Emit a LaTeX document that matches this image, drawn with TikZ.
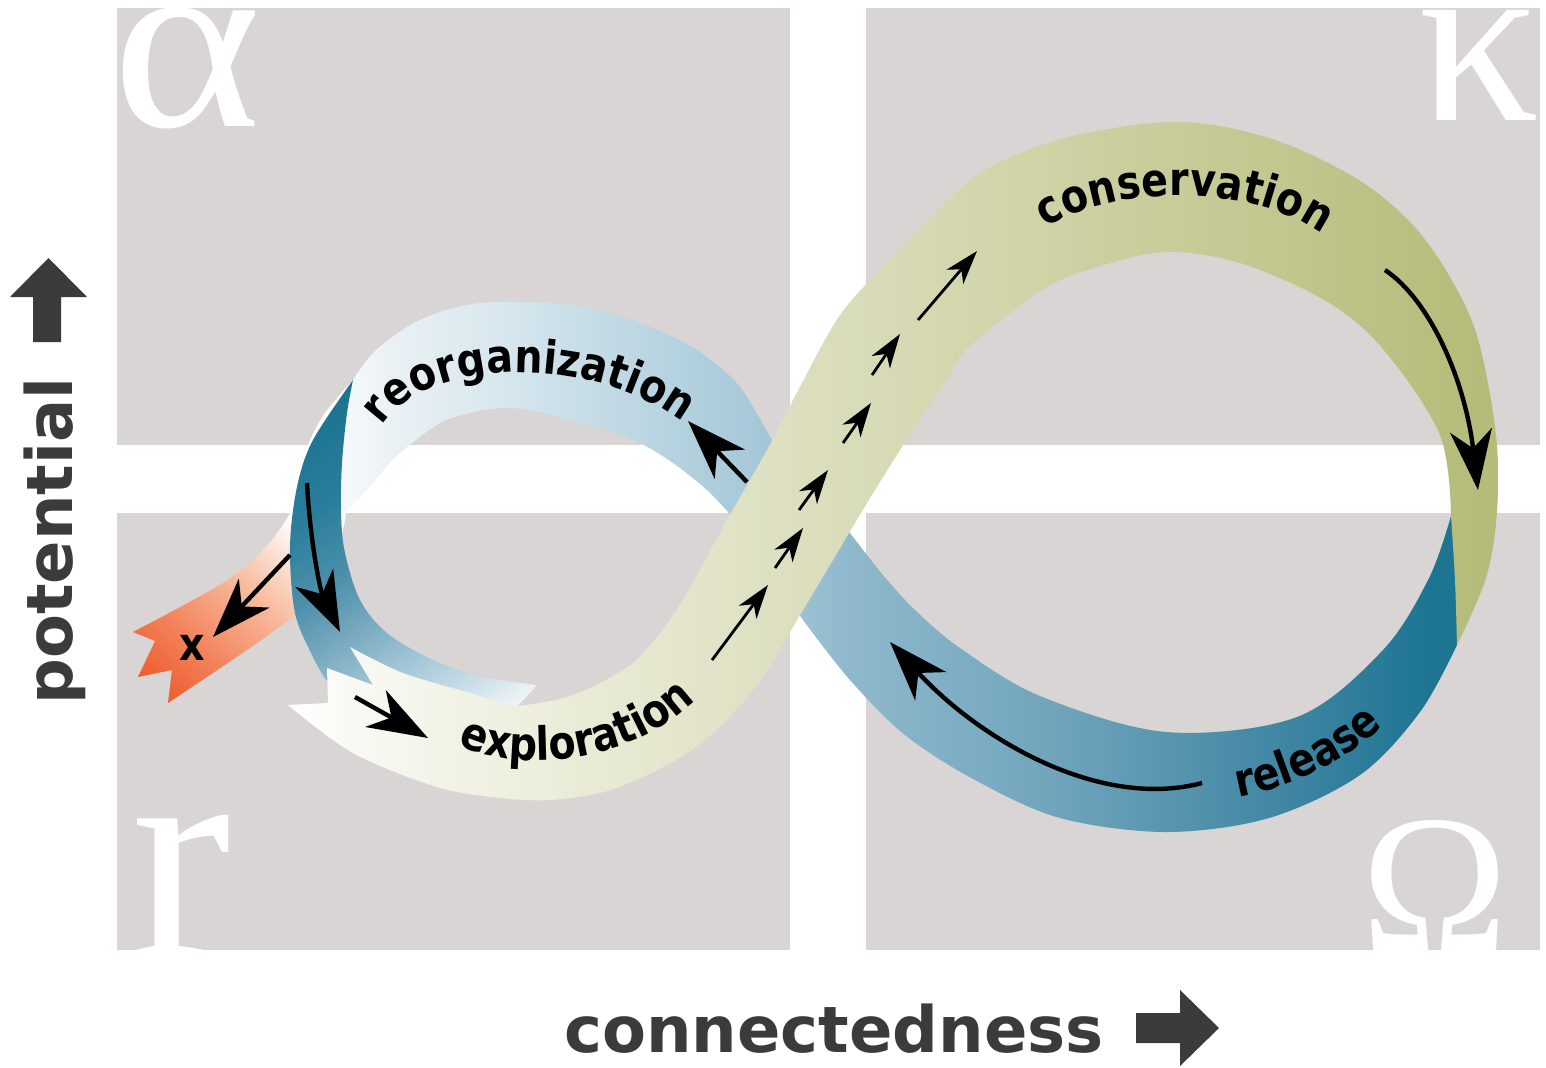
\documentclass[tikz,border=0pt]{standalone}
\usepackage{fontspec}
\setsansfont{DejaVu Sans}
\newfontfamily\greekfont{Liberation Serif}
\newfontfamily\ribbonfam[FakeStretch=0.86]{DejaVu Sans}
\usetikzlibrary{arrows.meta,decorations.text}
\newcommand\ribbonfont{\ribbonfam\bfseries\fontsize{23}{27}\selectfont}
\newcommand\axisfont{\sffamily\bfseries\fontsize{32}{38}\selectfont}
\definecolor{quad}{RGB}{217,213,212}
\definecolor{axisgrey}{HTML}{3B3B3D}
% green ribbon
\definecolor{g0}{HTML}{FFFFFF}\definecolor{g1}{HTML}{F9F9F4}\definecolor{g2}{HTML}{F2F3E6}
\definecolor{g3}{HTML}{ECEDDA}\definecolor{g4}{HTML}{E6E7CF}\definecolor{g5}{HTML}{DFE1C4}
\definecolor{g6}{HTML}{D9DCB9}\definecolor{g7}{HTML}{D1D5AA}\definecolor{g8}{HTML}{C9CD9B}
\definecolor{g9}{HTML}{C0C68C}\definecolor{g10}{HTML}{B5BB79}
% blue ribbon
\definecolor{b0}{HTML}{F5F9FB}\definecolor{b1}{HTML}{E8F0F4}\definecolor{b2}{HTML}{D8E7EE}
\definecolor{b3}{HTML}{C4DBE6}\definecolor{b4}{HTML}{B0CFDD}\definecolor{b5}{HTML}{A3C6D6}
\definecolor{b6}{HTML}{8FB8CC}\definecolor{b7}{HTML}{7EAEC4}\definecolor{b8}{HTML}{72A6BD}
\definecolor{b9}{HTML}{5B96B0}\definecolor{b10}{HTML}{3C84A1}\definecolor{b11}{HTML}{1D7592}
% teal
\definecolor{t0}{HTML}{1A7391}\definecolor{t1}{HTML}{2A7E9B}\definecolor{t2}{HTML}{4D90AB}
\definecolor{t3}{HTML}{74A7BE}\definecolor{t4}{HTML}{9CC2D3}\definecolor{t5}{HTML}{CDE0E9}
\definecolor{t6}{HTML}{EAF2F6}\definecolor{t7}{HTML}{F4F8FA}
% orange
\definecolor{o0}{HTML}{EE5A2B}\definecolor{o1}{HTML}{F28058}\definecolor{o2}{HTML}{F8B99C}
\pgfdeclarehorizontalshading{greenshade}{100bp}{color(0bp)=(g0); color(25bp)=(g0); color(27.56bp)=(g1); color(31.68bp)=(g2); color(35.81bp)=(g3); color(39.93bp)=(g4); color(44.06bp)=(g5); color(48.18bp)=(g6); color(54.37bp)=(g7); color(60.56bp)=(g8); color(66.75bp)=(g9); color(74.17bp)=(g10); color(100bp)=(g10)}
\pgfdeclarehorizontalshading{blueshade}{100bp}{color(0bp)=(b0); color(25.2bp)=(b0); color(27.68bp)=(b1); color(32.14bp)=(b2); color(36.61bp)=(b3); color(41.07bp)=(b4); color(44.2bp)=(b5); color(47.77bp)=(b6); color(52.68bp)=(b7); color(56.25bp)=(b8); color(61.61bp)=(b9); color(67.86bp)=(b10); color(73.66bp)=(b11); color(100bp)=(b11)}
\pgfdeclareverticalshading{tealshade}{100bp}{color(0bp)=(t7); color(25bp)=(t7); color(27bp)=(t6); color(31.5bp)=(t5); color(40bp)=(t4); color(47bp)=(t3); color(53.5bp)=(t2); color(63bp)=(t1); color(75bp)=(t0); color(100bp)=(t0)}
\pgfdeclareverticalshading{orangeshade}{100bp}{color(0bp)=(o0); color(32bp)=(o0); color(39bp)=(o1); color(48bp)=(o2); color(57.5bp)=(white); color(100bp)=(white)}
\tikzset{
  quadbox/.style={fill=quad},
  greek/.style={inner sep=0pt, text=white, font=\greekfont\fontsize{#1}{#1}\selectfont},
  axislabel/.style={inner sep=0pt, text=axisgrey, font=\axisfont},
  bigarr/.style={line width=2.2pt, -{Stealth[length=30pt,width=21pt,inset=9pt]}},
  smallarr/.style={line width=1.4pt, -{Stealth[length=17pt,width=11pt,inset=5pt]}},
  ribbontext/.style={decorate, decoration={text along path, text={|\ribbonfont|#1}, text color=black}},
  edge/.style={smooth, tension=.55}
}
\begin{document}
\begin{tikzpicture}[x=0.5pt,y=-0.5pt]
\useasboundingbox (0,0) rectangle (1546,1067);
\fill[white] (0,0) rectangle (1546,1067);
% quadrants
\fill[quadbox] (117,8) rectangle (790,445);
\fill[quadbox] (866,8) rectangle (1540,445);
\fill[quadbox] (117,513) rectangle (790,950);
\fill[quadbox] (866,513) rectangle (1540,950);
% greek letters
\begin{scope}\clip (117,8) rectangle (790,445);
\node[greek=126, anchor=base west] (alpha) at (112,126) {\scalebox{1.13}[1]{α}};
\end{scope}
\begin{scope}\clip (866,8) rectangle (1540,445);
\node[greek=120, anchor=base west] (kappa) at (1418,120) {κ};
\end{scope}
\begin{scope}\clip (117,513) rectangle (790,950);
\node[greek=150, anchor=base west] (rr) at (131,956) {r};
\end{scope}
\begin{scope}\clip (866,513) rectangle (1540,950);
\node[greek=99, anchor=base west] (omega) at (1361,951) {Ω};
\end{scope}
% axes
\node[axislabel, rotate=90, anchor=base] (pot) at (72,541) {potential};
\node[axislabel, anchor=base] (conn) at (834,1052) {connectedness};
\fill[axisgrey] (10,297) -- (48.5,258) -- (87,297) -- (61,297) -- (61,342) -- (33,342) -- (33,297) -- cycle;
\fill[axisgrey] (1136,1013) -- (1180,1013) -- (1180,990) -- (1219,1028) -- (1180,1066) -- (1180,1043) -- (1136,1043) -- cycle;
% orange x band
\begin{scope}
\clip plot[edge] coordinates {(353,380) (325,413) (307,447) (297,480) (290,513) (262,551) (223,583) (133,632)}
  -- (155,641) -- (138,677) -- (172,670) -- (168,703)
  -- plot[edge] coordinates {(168,703) (250,648) (293,617) (330,590)}
  -- (345,520) -- (352,450) -- cycle;
\shade[shading=orangeshade, shading angle=-43] (20,340) rectangle (460,780);
\end{scope}
% blue ribbon (release + reorganization)
\begin{scope}
\clip (1475,560) -- plot[edge] coordinates {(1457,645) (1420,712) (1360,775) (1269,818) (1166,832) (1060,818) (975,780) (905,735) (850,680) (803,620)}
  -- (728,512)
  -- plot[edge] coordinates {(728,512) (707,490) (673,463) (640,443) (607,430) (573,422) (540,412) (507,408) (473,412) (440,423) (407,447) (390,463) (360,497) (343,513)}
  -- (335,460) -- (353,380)
  -- plot[edge] coordinates {(353,380) (373,353) (407,327) (440,312) (480,303) (523,302) (573,305) (623,317) (673,337) (707,357) (740,387) (770,437)}
  -- (850,533)
  -- plot[edge] coordinates {(850,533) (883,575) (915,610) (960,648) (1040,696) (1166,732) (1297,717) (1383,650) (1429,578) (1451,516)}
  -- (1475,520) -- cycle;
\shade[shading=blueshade] (340,280) rectangle (1460,850);
\end{scope}
% teal band (left)
\begin{scope}
\clip plot[edge] coordinates {(353,380) (313,440) (297,487) (290,547) (295,613) (313,657) (326,680)}
  -- (360,692) -- (470,703) -- (512,712) -- (537,685)
  -- plot[edge] coordinates {(537,685) (483,677) (433,660) (387,633) (360,600) (345,553) (341,513) (342,463) (347,413) (353,380)}
  -- cycle;
\shade[shading=tealshade, shading angle=33] (255,360) rectangle (625,730);
\end{scope}
% green ribbon (exploration + conservation)
\begin{scope}
\clip (288,705) -- (328,703) -- (327,668) -- (373,685) -- (350,647)
  -- plot[edge] coordinates {(350,647) (403,673) (470,693) (510,705) (533,704) (567,697) (600,683) (633,663) (660,633) (687,593) (727,520) (767,450) (793,400) (838,318) (880,270) (930,218) (985,170) (1069,137) (1177,122) (1269,138) (1354,177) (1410,222) (1450,277) (1478,339) (1496,435) (1497,511) (1486,578) (1457,645)}
  -- plot[edge] coordinates {(1457,645) (1455,580) (1451,516)}
  -- plot[edge] coordinates {(1451,516) (1440,435) (1383,349) (1326,301) (1240,263) (1166,252) (1097,267) (1040,291) (966,349)}
  -- plot[edge] coordinates {(966,349) (933,400) (900,450) (867,503) (833,560) (793,627) (763,677) (727,720) (687,753) (643,777) (600,793) (550,800) (500,798) (437,787) (353,753) (288,705)}
  -- cycle;
\shade[shading=greenshade] (288,100) rectangle (1500,840);
\end{scope}
% arrows
\coordinate (a1s) at (307,483); \coordinate (a1e) at (340,632);
\draw[bigarr] (a1s) .. controls (310,540) and (320,590) .. (a1e);
\coordinate (a2s) at (290,555); \coordinate (a2e) at (213,637);
\draw[bigarr] (a2s) -- (a2e);
\coordinate (a3s) at (355,697); \coordinate (a3e) at (428,738);
\draw[bigarr] (a3s) -- (a3e);
\coordinate (a4s) at (747,482); \coordinate (a4e) at (688,421);
\draw[bigarr] (a4s) -- (a4e);
\coordinate (a5s) at (1385,270); \coordinate (a5e) at (1478,490);
\draw[bigarr] (a5s) .. controls (1430,300) and (1465,380) .. (a5e);
\coordinate (a6s) at (1202,783); \coordinate (a6e) at (890,642);
\draw[bigarr] (a6s) .. controls (1100,810) and (980,740) .. (a6e);
\coordinate (s1s) at (712,660); \coordinate (s1e) at (768,585);
\coordinate (s2s) at (775,568); \coordinate (s2e) at (803,528);
\coordinate (s3s) at (799,510); \coordinate (s3e) at (828,470);
\coordinate (s4s) at (843,443); \coordinate (s4e) at (871,403);
\coordinate (s5s) at (872,375); \coordinate (s5e) at (900,334);
\coordinate (s6s) at (918,320); \coordinate (s6e) at (977,251);
\foreach \i in {1,...,6} {\draw[smallarr] (s\i s) -- (s\i e);}
% ribbon labels
\path[ribbontext=reorganization] (382,426) .. controls (425,357) and (600,350) .. (695,432);
\path[ribbontext=conservation] (1046,228) .. controls (1110,185) and (1260,180) .. (1332,242);
\path[ribbontext=exploration] (458,745) .. controls (520,775) and (640,765) .. (707,688);
\path[ribbontext=release] (1238,797) .. controls (1290,787) and (1345,765) .. (1397,714);
\node[inner sep=0pt, font=\ribbonfont] (xlab) at (192,648) {x};
\end{tikzpicture}
\end{document}
